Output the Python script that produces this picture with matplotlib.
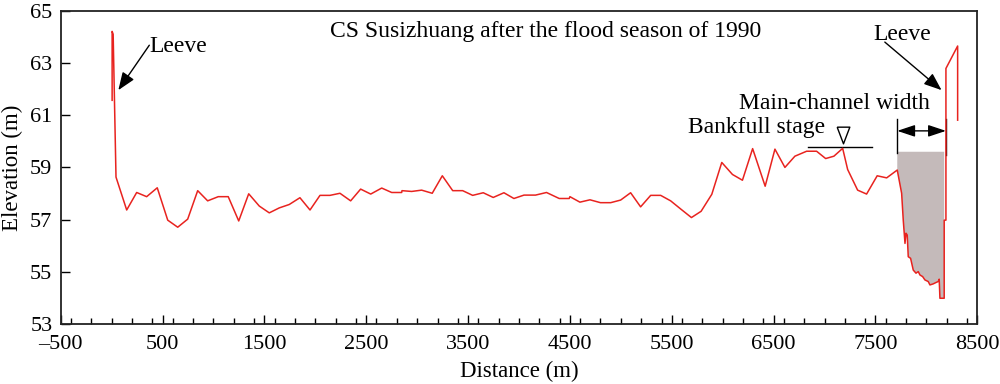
import matplotlib
matplotlib.use("Agg")
import matplotlib.pyplot as plt
import numpy as np
from matplotlib.ticker import MultipleLocator, FixedLocator

plt.rcParams['font.family'] = ['Liberation Serif', 'DejaVu Serif']
plt.rcParams['mathtext.fontset'] = 'stix'

# Cross-section profile (distance m, elevation m)
distance = [5, 5, 15, 43, 148, 246, 344, 448, 551, 649, 747, 845, 943, 1047, 1145,
            1248, 1346, 1450, 1548, 1646, 1744, 1849, 1948, 2046, 2144, 2242, 2347,
            2445, 2544, 2652, 2750, 2848, 2851, 2946, 3044, 3148, 3247, 3349, 3447,
            3545, 3649, 3747, 3852, 3950, 4049, 4162, 4270, 4395, 4493, 4500, 4598,
            4697, 4800, 4900, 4998, 5096, 5194, 5293, 5391, 5489, 5587, 5693, 5788,
            5893, 5991, 6096, 6194, 6294, 6417, 6513, 6611, 6709, 6824, 6922, 7011,
            7092, 7178, 7227, 7325, 7413, 7517, 7610, 7714, 7757, 7773, 7790, 7800,
            7812, 7822, 7845, 7871, 7898, 7920, 7937, 7963, 7986, 8018, 8035, 8067,
            8093, 8116, 8126, 8133, 8175, 8175, 8192, 8192, 8307, 8307]
elevation = [61.57, 64.21, 64.10, 58.63, 57.37, 58.04, 57.88, 58.22, 56.98, 56.71,
             57.02, 58.11, 57.72, 57.88, 57.88, 56.95, 57.99, 57.52, 57.26, 57.45,
             57.58, 57.84, 57.37, 57.93, 57.93, 58.01, 57.72, 58.17, 57.98, 58.21,
             58.04, 58.04, 58.11, 58.08, 58.13, 58.01, 58.68, 58.11, 58.11, 57.93,
             58.03, 57.85, 58.03, 57.81, 57.94, 57.94, 58.04, 57.81, 57.81, 57.88,
             57.67, 57.76, 57.65, 57.65, 57.75, 58.03, 57.49, 57.93, 57.93, 57.72,
             57.41, 57.08, 57.32, 57.97, 59.19, 58.73, 58.51, 59.72, 58.28, 59.70,
             59.00, 59.43, 59.62, 59.62, 59.34, 59.43, 59.73, 58.92, 58.13, 57.98,
             58.68, 58.60, 58.90, 58.01, 56.98, 56.09, 56.48, 56.41, 55.58, 55.52,
             55.07, 54.95, 55.01, 54.88, 54.82, 54.69, 54.63, 54.50, 54.54, 54.59,
             54.63, 54.72, 53.99, 53.99, 56.98, 56.98, 62.79, 63.65, 60.81]

bankfull_level = 59.79
bankfull_x = [6834, 7462]
bankfull_marker_x = 7178
channel_fill_top = 59.60
channel_left, channel_right = 7714, 8192
width_arrow_y = 60.40

xticks = [-500, 500, 1500, 2500, 3500, 4500, 5500, 6500, 7500, 8500]
yticks = [53, 55, 57, 59, 61, 63, 65]

fig = plt.figure(figsize=(10, 3.84), dpi=100)
ax = fig.add_axes([0.0607, 0.156, 0.9166, 0.816])

d = np.array(distance, dtype=float)
e = np.array(elevation, dtype=float)

# Shaded main channel (between bankfull fill level and bed)
mask = (d >= channel_left) & (d <= 8180)
fx = np.concatenate([d[mask], [d[mask][-1], d[mask][-1] + 8, channel_left]])
fy = np.concatenate([e[mask], [channel_fill_top, channel_fill_top, channel_fill_top]])
ax.fill(fx, fy, color='#c4baba', lw=0, zorder=1)

ax.plot(d, e, color='#e8231f', lw=1.1, zorder=3)

# Bankfull stage
ax.plot(bankfull_x, [bankfull_level, bankfull_level], color='black', lw=1.0, zorder=2)
tri = [(-0.38, 0.5), (0.38, 0.5), (0.0, -0.5), (-0.38, 0.5)]
ax.plot([bankfull_marker_x], [60.235], marker=tri, markersize=12, mfc='white',
        mec='black', mew=1.0, ls='none', zorder=4)
ax.text(7004, 60.54, 'Bankfull stage', ha='right', va='center', fontsize=17)

# Main-channel width
ax.plot([channel_left, channel_left], [59.56, 60.84], color='black', lw=1.0)
ax.plot([channel_right, channel_right], [59.47, 60.84], color='black', lw=1.0)
ax.annotate('', xy=(channel_left, width_arrow_y), xytext=(channel_right, width_arrow_y),
            arrowprops=dict(arrowstyle='<|-|>,head_length=0.9,head_width=0.3',
                            color='black', lw=1.0, mutation_scale=12,
                            shrinkA=0, shrinkB=0))
ax.text(8035, 61.46, 'Main-channel width', ha='right', va='center', fontsize=17)

# Leeve labels
ax.text(370, 63.62, 'Leeve', ha='left', va='center', fontsize=17)
ax.annotate('', xy=(66, 61.96), xytext=(370, 63.68),
            arrowprops=dict(arrowstyle='-|>,head_length=0.9,head_width=0.35',
                            color='black', lw=1.0, mutation_scale=12,
                            shrinkA=0, shrinkB=0))
ax.text(7475, 64.10, 'Leeve', ha='left', va='center', fontsize=17)
ax.annotate('', xy=(8149, 61.96), xytext=(7592, 63.80),
            arrowprops=dict(arrowstyle='-|>,head_length=0.9,head_width=0.35',
                            color='black', lw=1.0, mutation_scale=12,
                            shrinkA=0, shrinkB=0))

ax.text(4265, 64.2, 'CS Susizhuang after the flood season of 1990',
        ha='center', va='center', fontsize=17)

ax.set_xlim(-500, 8500)
ax.set_ylim(53, 65)
ax.xaxis.set_major_locator(FixedLocator(xticks))
ax.xaxis.set_minor_locator(MultipleLocator(200))
ax.yaxis.set_major_locator(FixedLocator(yticks))
ax.set_xticklabels([f'{t}'.replace('-', '\u2013') for t in xticks])
ax.tick_params(axis='both', which='major', direction='in', length=6.5, width=1.0,
               labelsize=16, colors='black')
ax.tick_params(axis='x', which='major', pad=7.5)
ax.tick_params(axis='y', which='major', pad=6)
ax.tick_params(axis='x', which='minor', direction='in', length=4.2, width=1.0)
for s in ax.spines.values():
    s.set_linewidth(1.3)
    s.set_color('#222222')

ax.set_xlabel('Distance (m)', fontsize=16.5, labelpad=5)
ax.set_ylabel('Elevation (m)', fontsize=16.5, labelpad=5)

fig.savefig('out.png', dpi=100)
